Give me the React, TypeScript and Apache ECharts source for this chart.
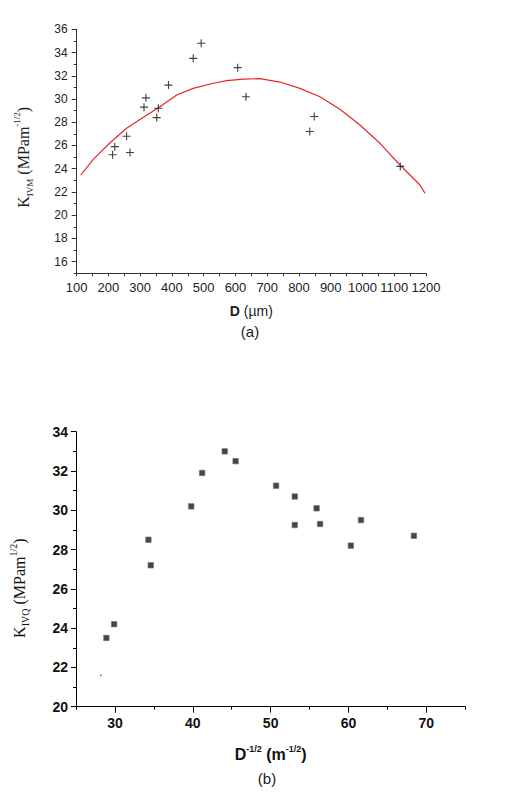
import React, { useEffect, useRef } from "react";
import * as echarts from "echarts";

// (a) measured points
const dA = [213, 220, 257, 268, 312, 318, 352, 357, 389, 467, 492, 607, 633, 834, 848, 1119];
const kA = [25.2, 25.9, 26.8, 25.4, 29.3, 30.1, 28.4, 29.2, 31.2, 33.5, 34.8, 32.7, 30.2, 27.2, 28.5, 24.2];
// (a) fitted curve
const dFit = [113, 152, 205, 257, 310, 362, 415, 467, 520, 572, 625, 677, 740, 803, 866, 929, 992, 1055, 1118, 1181, 1197];
const kFit = [23.46, 24.81, 26.24, 27.48, 28.43, 29.34, 30.35, 30.92, 31.29, 31.58, 31.72, 31.75, 31.46, 30.92, 30.2, 29.12, 27.76, 26.19, 24.32, 22.6, 21.88];
// (b) points
const xB = [28.9, 29.9, 34.3, 34.6, 39.8, 41.2, 44.1, 45.5, 50.7, 53.1, 53.1, 55.9, 56.35, 60.3, 61.6, 68.4];
const kB = [23.5, 24.2, 28.5, 27.2, 30.2, 31.9, 33.0, 32.5, 31.25, 30.7, 29.25, 30.1, 29.3, 28.2, 29.5, 28.7];
const dotB = [[28.2, 21.6]];

// tick labels
const xTicksA = [100, 200, 300, 400, 500, 600, 700, 800, 900, 1000, 1100, 1200];
const yTicksA = [16, 18, 20, 22, 24, 26, 28, 30, 32, 34, 36];
const yMinorA = [15, 17, 19, 21, 23, 25, 27, 29, 31, 33, 35];
const xTicksB = [30, 40, 50, 60, 70];
const xMinorB = [25, 35, 45, 55, 65, 75];
const yTicksB = [20, 22, 24, 26, 28, 30, 32, 34];
const yMinorB = [21, 23, 25, 27, 29, 31, 33];

const SANS = "Liberation Sans, Arial, sans-serif";
const SERIF = "Liberation Serif, Times New Roman, serif";
const CROSS = "path://M4.3,0H5.7V4.3H10V5.7H5.7V10H4.3V5.7H0V4.3H4.3Z";
const plain = (v: number) => String(v);

export default function App() {
  const ref = useRef<HTMLDivElement>(null);
  useEffect(() => {
    if (!ref.current) return;
    const chart = echarts.init(ref.current, null, { renderer: "svg" });
    const lineA = { show: true, lineStyle: { color: "#333", width: 1 } };
    const lineB = { show: true, lineStyle: { color: "#000", width: 1 } };
    chart.setOption({
      animation: false,
      backgroundColor: "#fff",
      grid: [
        { left: 76.7, width: 349.3, top: 29.3, height: 244 },
        { left: 69.3, width: 396, top: 431.7, height: 275 },
      ],
      xAxis: [
        {
          gridIndex: 0, type: "value", min: 100, max: 1200, interval: 50,
          axisLine: lineA,
          axisTick: { show: true, length: 3, lineStyle: { color: "#333" } },
          axisLabel: { customValues: xTicksA, formatter: plain, showMaxLabel: true, showMinLabel: true, margin: 8, fontSize: 13, color: "#222", fontFamily: SANS },
          splitLine: { show: false },
          name: "{b|D}{n| (µm)}", nameLocation: "middle", nameGap: 31,
          nameTextStyle: {
            rich: {
              b: { fontSize: 14, fontWeight: "bold", fontFamily: SANS, color: "#222" },
              n: { fontSize: 14, fontFamily: SANS, color: "#222" },
            },
          },
        },
        {
          gridIndex: 1, type: "value", min: 25, max: 75, interval: 5,
          axisLine: lineB,
          axisTick: { show: true, length: 6, customValues: xTicksB, lineStyle: { color: "#000" } },
          axisLabel: { customValues: xTicksB, formatter: plain, margin: 9, fontSize: 14, fontWeight: "bold", color: "#111", fontFamily: SANS },
          splitLine: { show: false },
          name: "{b|D}{p|-1/2}{b| (m}{p|-1/2}{b|)}", nameLocation: "middle", nameGap: 38,
          nameTextStyle: {
            rich: {
              b: { fontSize: 16, fontWeight: "bold", fontFamily: SANS, color: "#111", lineHeight: 20 },
              p: { fontSize: 9, fontWeight: "bold", fontFamily: SANS, color: "#111", lineHeight: 10, verticalAlign: "top" },
            },
          },
        },
        {
          gridIndex: 1, type: "value", min: 25, max: 75, interval: 5, position: "bottom", offset: 0,
          axisLine: { show: false },
          axisTick: { show: true, length: 3, customValues: xMinorB, lineStyle: { color: "#000" } },
          axisLabel: { show: false },
          splitLine: { show: false },
        },
      ],
      yAxis: [
        {
          gridIndex: 0, type: "value", min: 15, max: 36, interval: 1,
          axisLine: lineA,
          axisTick: { show: true, length: 5, customValues: yTicksA, lineStyle: { color: "#333" } },
          axisLabel: { customValues: yTicksA, formatter: plain, margin: 9, fontSize: 12, color: "#222", fontFamily: SANS },
          splitLine: { show: false },
          name: "{k|K}{s|IVM}{k| (MPam}{p|-1/2}{k|)}", nameLocation: "middle", nameGap: 42, nameRotate: 90,
          nameTextStyle: {
            padding: [0, 12, 0, 0],
            rich: {
              k: { fontSize: 16, fontFamily: SERIF, color: "#222", lineHeight: 22 },
              s: { fontSize: 9, fontFamily: SERIF, color: "#222", lineHeight: 10, verticalAlign: "bottom" },
              p: { fontSize: 9, fontFamily: SERIF, color: "#222", lineHeight: 10, verticalAlign: "top" },
            },
          },
        },
        {
          gridIndex: 0, type: "value", min: 15, max: 36, interval: 1, position: "left", offset: 0,
          axisLine: { show: false },
          axisTick: { show: true, length: 3, customValues: yMinorA, lineStyle: { color: "#333" } },
          axisLabel: { show: false },
          splitLine: { show: false },
        },
        {
          gridIndex: 1, type: "value", min: 20, max: 34, interval: 1,
          axisLine: lineB,
          axisTick: { show: true, length: 5, customValues: yTicksB, lineStyle: { color: "#000" } },
          axisLabel: { customValues: yTicksB, formatter: plain, margin: 8, fontSize: 14, fontWeight: "bold", color: "#111", fontFamily: SANS },
          splitLine: { show: false },
          name: "{k|K}{s|IVQ}{k| (MPam}{p|1/2}{k|)}", nameLocation: "middle", nameGap: 46, nameRotate: 90,
          nameTextStyle: {
            padding: [0, 38, 0, 0],
            rich: {
              k: { fontSize: 16, fontFamily: SERIF, color: "#111", lineHeight: 22 },
              s: { fontSize: 10, fontFamily: SERIF, color: "#111", lineHeight: 10, verticalAlign: "bottom" },
              p: { fontSize: 10, fontFamily: SERIF, color: "#111", lineHeight: 10, verticalAlign: "top" },
            },
          },
        },
        {
          gridIndex: 1, type: "value", min: 20, max: 34, interval: 1, position: "left", offset: 0,
          axisLine: { show: false },
          axisTick: { show: true, length: 3, customValues: yMinorB, lineStyle: { color: "#000" } },
          axisLabel: { show: false },
          splitLine: { show: false },
        },
      ],
      series: [
        {
          type: "line", xAxisIndex: 0, yAxisIndex: 0,
          data: dFit.map((d, i) => [d, kFit[i]]),
          showSymbol: false, symbol: "none", smooth: false,
          lineStyle: { color: "#e8262a", width: 1.2 },
          z: 2,
        },
        {
          type: "scatter", xAxisIndex: 0, yAxisIndex: 0,
          data: dA.map((d, i) => [d, kA[i]]),
          symbol: CROSS, symbolSize: 8,
          itemStyle: { color: "#111" },
          z: 3,
        },
        {
          type: "scatter", xAxisIndex: 1, yAxisIndex: 2,
          data: xB.map((x, i) => [x, kB[i]]),
          symbol: "rect", symbolSize: 5.5,
          itemStyle: { color: "#151515", borderColor: "#777", borderWidth: 0.8 },
        },
        {
          type: "scatter", xAxisIndex: 1, yAxisIndex: 2,
          data: dotB,
          symbol: "circle", symbolSize: 1.5,
          itemStyle: { color: "#333" },
        },
      ],
      graphic: [
        { type: "text", x: 250, y: 331, style: { text: "(a)", fontSize: 15, fontFamily: SANS, fill: "#222", align: "center", verticalAlign: "middle" } },
        { type: "text", x: 267, y: 778, style: { text: "(b)", fontSize: 15, fontFamily: SANS, fill: "#222", align: "center", verticalAlign: "middle" } },
      ],
    });
    return () => chart.dispose();
  }, []);
  return <div ref={ref} style={{ position: "absolute", left: 0, top: 0, width: 521, height: 792 }} />;
}
